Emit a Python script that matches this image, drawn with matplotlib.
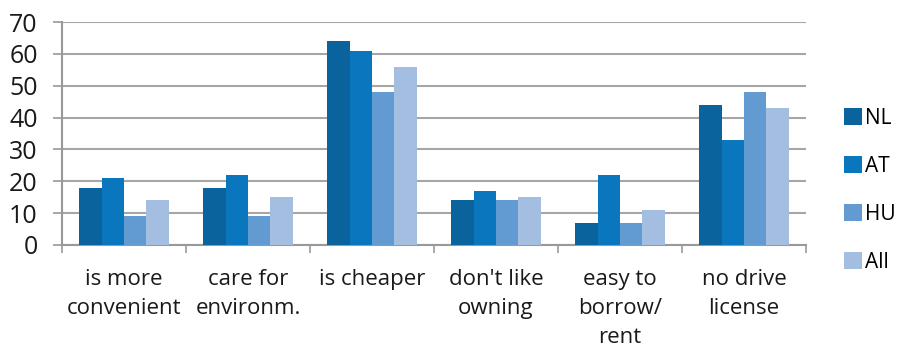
import matplotlib
matplotlib.use("Agg")
import matplotlib.pyplot as plt
import numpy as np

# 类别与数据
categories = ["is more\nconvenient", "care for\nenvironm.", "is cheaper",
              "don't like\nowning", "easy to\nborrow/\nrent", "no drive\nlicense"]
series_names = ["NL", "AT", "HU", "All"]
nl = [18, 18, 64, 14, 7, 44]
at = [21, 22, 61, 17, 22, 33]
hu = [9, 9, 48, 14, 7, 48]
all_ = [14, 15, 56, 15, 11, 43]
yticks = [0, 10, 20, 30, 40, 50, 60, 70]

colors = ["#0B639E", "#0A76BD", "#629AD2", "#A3BEE0"]
axis_grey = "#999999"

plt.rcParams["font.family"] = ["Open Sans", "DejaVu Sans"]

fig = plt.figure(figsize=(8.99, 3.55), dpi=100)
ax = fig.add_axes([0.069, 0.31, 0.8276, 0.628])

x = np.arange(len(categories))
bw = 0.18
for i, (vals, c, name) in enumerate(zip([nl, at, hu, all_], colors, series_names)):
    ax.bar(x + (i - 1.5) * bw, vals, width=bw, color=c, label=name, zorder=3)

ax.set_xlim(-0.5, len(categories) - 0.5)
ax.set_ylim(0, 70)
ax.set_yticks(yticks)
ax.yaxis.grid(True, color="#A6A6A6", lw=1.5, zorder=0)
ax.tick_params(axis="y", length=6.5, width=1.2, color=axis_grey,
               labelsize=18, pad=11, labelcolor="#1a1a1a")

for s in ["top", "right"]:
    ax.spines[s].set_visible(False)
for s in ["bottom", "left"]:
    ax.spines[s].set_color(axis_grey)
    ax.spines[s].set_linewidth(1.5)

# 类别边界的刻度
ax.set_xticks(np.arange(-0.5, len(categories), 1.0))
ax.set_xticklabels([])
ax.tick_params(axis="x", which="major", length=6, width=1.2, color=axis_grey)
ax.set_xticks(x, minor=True)
ax.set_xticklabels(categories, minor=True, fontsize=16, linespacing=1.5,
                   va="top", color="#1a1a1a")
ax.tick_params(axis="x", which="minor", length=0, pad=17)

leg = fig.legend(loc="upper left", bbox_to_anchor=(0.93, 0.72), frameon=False,
                 fontsize=15, handlelength=0.85, handleheight=0.85,
                 handletextpad=0.15, labelspacing=1.3, borderaxespad=0)

fig.savefig("out.png", dpi=100)
